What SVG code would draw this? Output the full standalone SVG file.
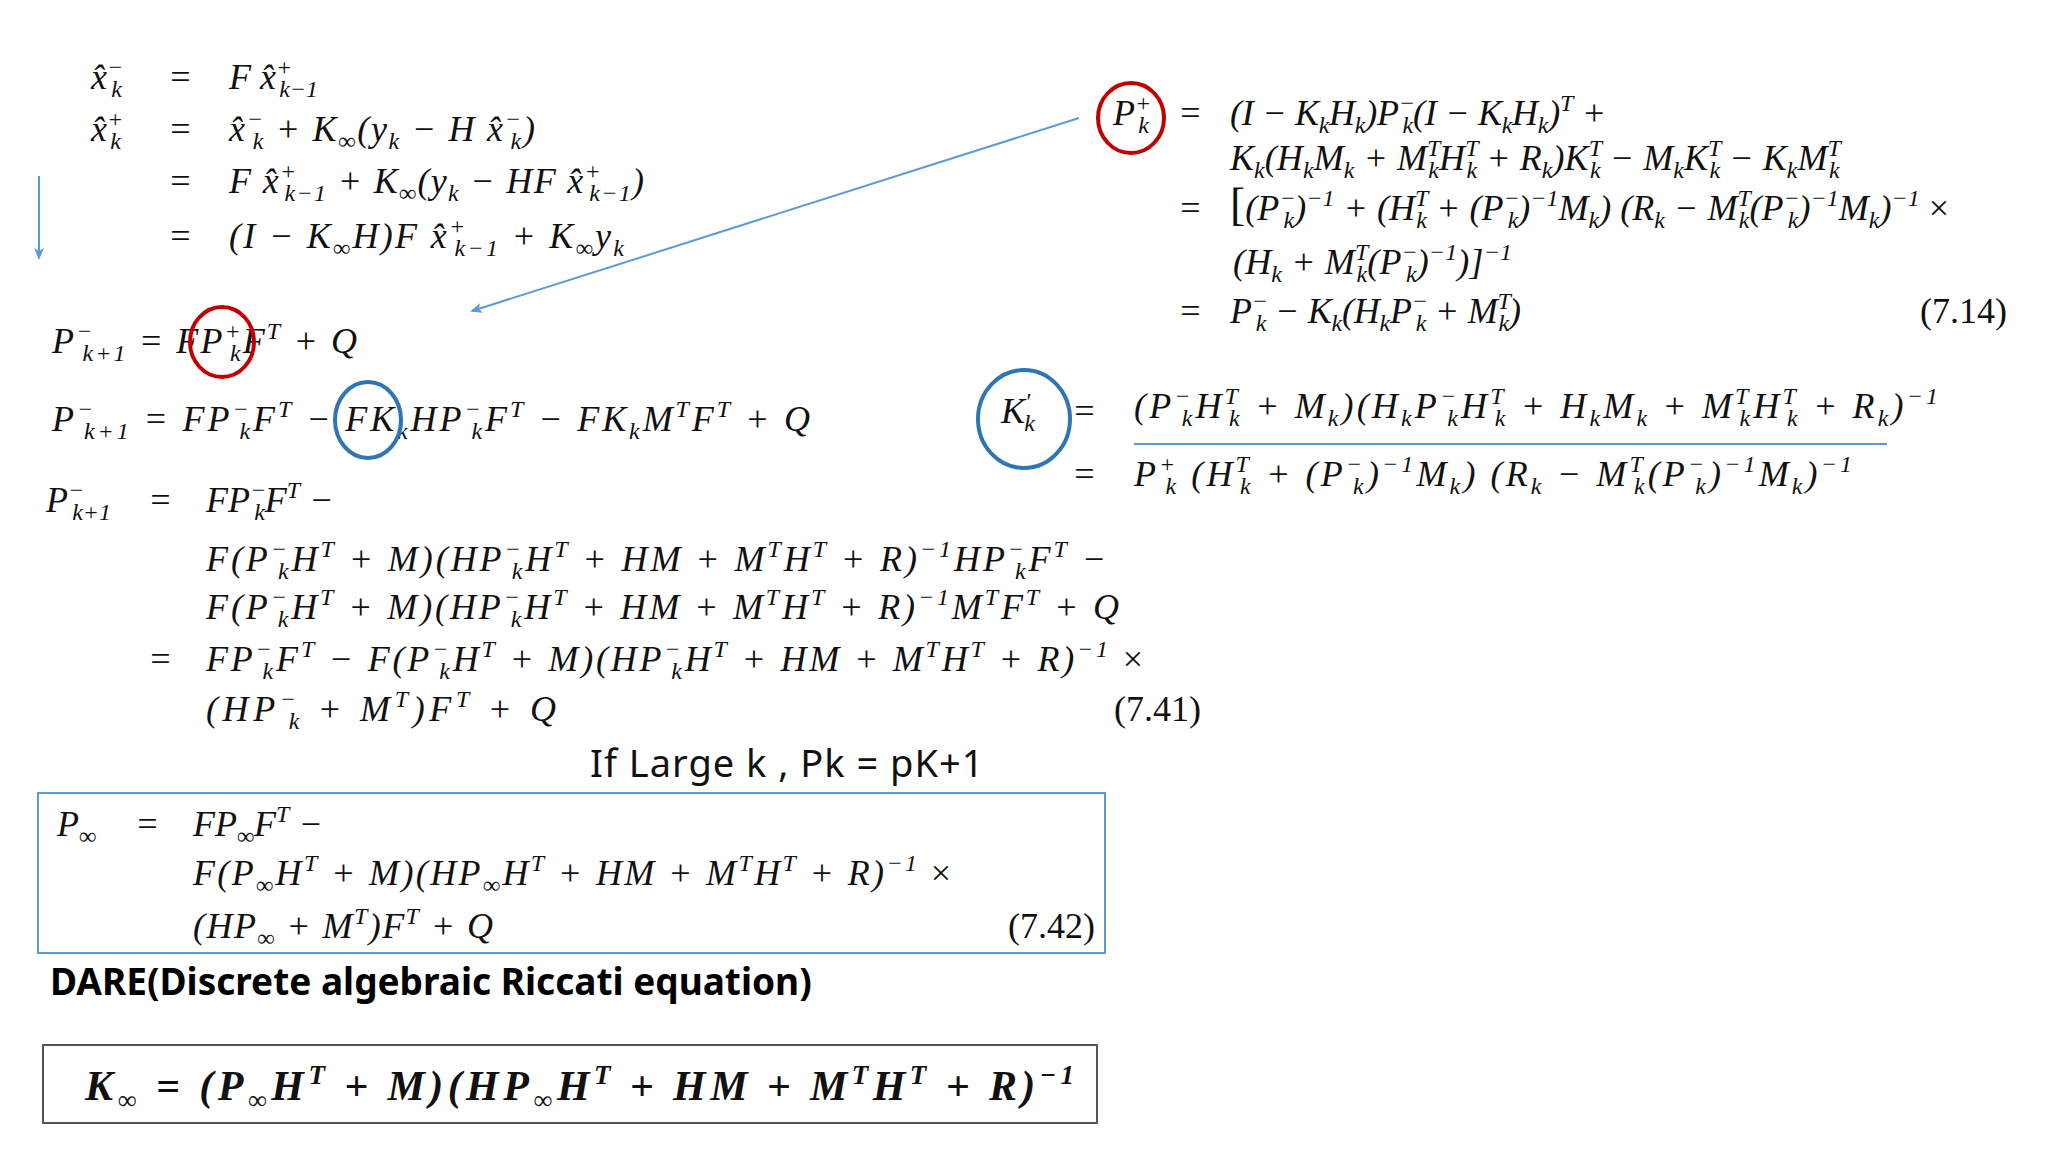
<svg xmlns="http://www.w3.org/2000/svg" width="2048" height="1152" viewBox="0 0 2048 1152">
<style>
.m{font-family:"Liberation Serif","DejaVu Serif",serif;font-style:italic;font-size:36px;fill:#111}
.u{font-size:24px;baseline-shift:14px}
.d{font-size:24px;baseline-shift:-8px}
.n{font-style:normal}
.t{font-family:"Noto Sans","Open Sans",sans-serif;font-size:38px;letter-spacing:1px;fill:#111}
.b{font-family:"Noto Sans","Open Sans",sans-serif;font-size:37px;font-weight:bold;fill:#000}
.big{font-size:42px;font-weight:bold}
.big .u{font-size:27px;baseline-shift:16px}
.big .d{font-size:27px;baseline-shift:-9px}
</style>
<defs>
<marker id="ah" markerWidth="12" markerHeight="10" refX="10" refY="5" orient="auto" markerUnits="userSpaceOnUse">
<path d="M0,0 L12,5 L0,10 L3,5 Z" fill="#5b9bd5"/>
</marker>
</defs>
<rect width="2048" height="1152" fill="#fff"/>

<g id="connectors" stroke="#5b9bd5" stroke-width="2" fill="none">
<line x1="39" y1="176" x2="39" y2="258" marker-end="url(#ah)"/>
<line x1="1079" y1="118" x2="472" y2="311" marker-end="url(#ah)"/>
<line x1="1134" y1="444" x2="1887" y2="444"/>
</g>

<g id="state-update" class="m">
<text x="91" y="89">x̂<tspan class="u">−</tspan><tspan class="d" dx="-12">k</tspan></text>
<text x="168" y="89">=</text>
<text x="229" y="89">F x̂<tspan class="u">+</tspan><tspan class="d" dx="-13">k−1</tspan></text>
<text x="91" y="141">x̂<tspan class="u">+</tspan><tspan class="d" dx="-13">k</tspan></text>
<text x="168" y="141">=</text>
<text x="229" y="141" textLength="306">x̂<tspan class="u">−</tspan><tspan class="d" dx="-12">k</tspan> + K<tspan class="d">∞</tspan>(y<tspan class="d">k</tspan> − H x̂<tspan class="u">−</tspan><tspan class="d" dx="-12">k</tspan>)</text>
<text x="168" y="193">=</text>
<text x="229" y="193" textLength="415">F x̂<tspan class="u">+</tspan><tspan class="d" dx="-13">k−1</tspan> + K<tspan class="d">∞</tspan>(y<tspan class="d">k</tspan> − HF x̂<tspan class="u">+</tspan><tspan class="d" dx="-13">k−1</tspan>)</text>
<text x="168" y="248">=</text>
<text x="229" y="248" textLength="395">(I − K<tspan class="d">∞</tspan>H)F x̂<tspan class="u">+</tspan><tspan class="d" dx="-13">k−1</tspan> + K<tspan class="d">∞</tspan>y<tspan class="d">k</tspan></text>
</g>

<g id="p-prior" class="m">
<text x="52" y="353" textLength="305">P<tspan class="u">−</tspan><tspan class="d" dx="-12">k+1</tspan> = FP<tspan class="u">+</tspan><tspan class="d" dx="-13">k</tspan>F<tspan class="u">T</tspan> + Q</text>
<text x="52" y="431" textLength="758">P<tspan class="u">−</tspan><tspan class="d" dx="-12">k+1</tspan> = FP<tspan class="u">−</tspan><tspan class="d" dx="-12">k</tspan>F<tspan class="u">T</tspan> − FK<tspan class="d">k</tspan>HP<tspan class="u">−</tspan><tspan class="d" dx="-12">k</tspan>F<tspan class="u">T</tspan> − FK<tspan class="d">k</tspan>M<tspan class="u">T</tspan>F<tspan class="u">T</tspan> + Q</text>
</g>

<g id="eq741" class="m">
<text x="46" y="512">P<tspan class="u">−</tspan><tspan class="d" dx="-12">k+1</tspan></text>
<text x="148" y="512">=</text>
<text x="206" y="512">FP<tspan class="u">−</tspan><tspan class="d" dx="-12">k</tspan>F<tspan class="u">T</tspan> −</text>
<text x="206" y="571" textLength="900">F(P<tspan class="u">−</tspan><tspan class="d" dx="-12">k</tspan>H<tspan class="u">T</tspan> + M)(HP<tspan class="u">−</tspan><tspan class="d" dx="-12">k</tspan>H<tspan class="u">T</tspan> + HM + M<tspan class="u">T</tspan>H<tspan class="u">T</tspan> + R)<tspan class="u">−1</tspan>HP<tspan class="u">−</tspan><tspan class="d" dx="-12">k</tspan>F<tspan class="u">T</tspan> −</text>
<text x="206" y="619" textLength="913">F(P<tspan class="u">−</tspan><tspan class="d" dx="-12">k</tspan>H<tspan class="u">T</tspan> + M)(HP<tspan class="u">−</tspan><tspan class="d" dx="-12">k</tspan>H<tspan class="u">T</tspan> + HM + M<tspan class="u">T</tspan>H<tspan class="u">T</tspan> + R)<tspan class="u">−1</tspan>M<tspan class="u">T</tspan>F<tspan class="u">T</tspan> + Q</text>
<text x="148" y="671">=</text>
<text x="206" y="671" textLength="937">FP<tspan class="u">−</tspan><tspan class="d" dx="-12">k</tspan>F<tspan class="u">T</tspan> − F(P<tspan class="u">−</tspan><tspan class="d" dx="-12">k</tspan>H<tspan class="u">T</tspan> + M)(HP<tspan class="u">−</tspan><tspan class="d" dx="-12">k</tspan>H<tspan class="u">T</tspan> + HM + M<tspan class="u">T</tspan>H<tspan class="u">T</tspan> + R)<tspan class="u">−1</tspan> <tspan class="n">×</tspan></text>
<text x="206" y="721" textLength="350">(HP<tspan class="u">−</tspan><tspan class="d" dx="-12">k</tspan> + M<tspan class="u">T</tspan>)F<tspan class="u">T</tspan> + Q</text>
<text x="1114" y="721" class="n">(7.41)</text>
</g>

<g id="p-post" class="m">
<text x="1113" y="125">P<tspan class="u">+</tspan><tspan class="d" dx="-13">k</tspan></text>
<text x="1178" y="125">=</text>
<text x="1230" y="125" textLength="376">(I − K<tspan class="d">k</tspan>H<tspan class="d">k</tspan>)P<tspan class="u">−</tspan><tspan class="d" dx="-12">k</tspan>(I − K<tspan class="d">k</tspan>H<tspan class="d">k</tspan>)<tspan class="u">T</tspan> +</text>
<text x="1230" y="170" textLength="611">K<tspan class="d">k</tspan>(H<tspan class="d">k</tspan>M<tspan class="d">k</tspan> + M<tspan class="u">T</tspan><tspan class="d" dx="-12">k</tspan>H<tspan class="u">T</tspan><tspan class="d" dx="-12">k</tspan> + R<tspan class="d">k</tspan>)K<tspan class="u">T</tspan><tspan class="d" dx="-12">k</tspan> − M<tspan class="d">k</tspan>K<tspan class="u">T</tspan><tspan class="d" dx="-12">k</tspan> − K<tspan class="d">k</tspan>M<tspan class="u">T</tspan><tspan class="d" dx="-12">k</tspan></text>
<text x="1178" y="220">=</text>
<text x="1230" y="220" textLength="719"><tspan class="n" font-size="46">[</tspan>(P<tspan class="u">−</tspan><tspan class="d" dx="-12">k</tspan>)<tspan class="u">−1</tspan> + (H<tspan class="u">T</tspan><tspan class="d" dx="-12">k</tspan> + (P<tspan class="u">−</tspan><tspan class="d" dx="-12">k</tspan>)<tspan class="u">−1</tspan>M<tspan class="d">k</tspan>) (R<tspan class="d">k</tspan> − M<tspan class="u">T</tspan><tspan class="d" dx="-12">k</tspan>(P<tspan class="u">−</tspan><tspan class="d" dx="-12">k</tspan>)<tspan class="u">−1</tspan>M<tspan class="d">k</tspan>)<tspan class="u">−1</tspan> <tspan class="n">×</tspan></text>
<text x="1233" y="274" textLength="279">(H<tspan class="d">k</tspan> + M<tspan class="u">T</tspan><tspan class="d" dx="-12">k</tspan>(P<tspan class="u">−</tspan><tspan class="d" dx="-12">k</tspan>)<tspan class="u">−1</tspan>)]<tspan class="u">−1</tspan></text>
<text x="1178" y="323">=</text>
<text x="1230" y="323" textLength="291">P<tspan class="u">−</tspan><tspan class="d" dx="-12">k</tspan> − K<tspan class="d">k</tspan>(H<tspan class="d">k</tspan>P<tspan class="u">−</tspan><tspan class="d" dx="-12">k</tspan> + M<tspan class="u">T</tspan><tspan class="d" dx="-12">k</tspan>)</text>
<text x="1920" y="323" class="n">(7.14)</text>
</g>

<g id="gain" class="m">
<text x="1001" y="423">K<tspan class="u">′</tspan><tspan class="d" dx="-6">k</tspan></text>
<text x="1072" y="423">=</text>
<text x="1134" y="418" textLength="804">(P<tspan class="u">−</tspan><tspan class="d" dx="-12">k</tspan>H<tspan class="u">T</tspan><tspan class="d" dx="-12">k</tspan> + M<tspan class="d">k</tspan>)(H<tspan class="d">k</tspan>P<tspan class="u">−</tspan><tspan class="d" dx="-12">k</tspan>H<tspan class="u">T</tspan><tspan class="d" dx="-12">k</tspan> + H<tspan class="d">k</tspan>M<tspan class="d">k</tspan> + M<tspan class="u">T</tspan><tspan class="d" dx="-12">k</tspan>H<tspan class="u">T</tspan><tspan class="d" dx="-12">k</tspan> + R<tspan class="d">k</tspan>)<tspan class="u">−1</tspan></text>
<text x="1072" y="486">=</text>
<text x="1134" y="486" textLength="718">P<tspan class="u">+</tspan><tspan class="d" dx="-13">k</tspan> (H<tspan class="u">T</tspan><tspan class="d" dx="-12">k</tspan> + (P<tspan class="u">−</tspan><tspan class="d" dx="-12">k</tspan>)<tspan class="u">−1</tspan>M<tspan class="d">k</tspan>) (R<tspan class="d">k</tspan> − M<tspan class="u">T</tspan><tspan class="d" dx="-12">k</tspan>(P<tspan class="u">−</tspan><tspan class="d" dx="-12">k</tspan>)<tspan class="u">−1</tspan>M<tspan class="d">k</tspan>)<tspan class="u">−1</tspan></text>
</g>

<g id="circles" fill="none" stroke-width="4">
<ellipse cx="1131" cy="118" rx="33" ry="35" stroke="#c00000"/>
<ellipse cx="222" cy="342" rx="32" ry="35" stroke="#c00000"/>
<ellipse cx="368" cy="420" rx="33" ry="38" stroke="#2e75b6"/>
<ellipse cx="1024" cy="419" rx="46" ry="49" stroke="#2e75b6"/>
</g>

<g id="note">
<text class="t" x="590" y="777">If Large k , Pk = pK+1</text>
</g>

<g id="eq742">
<rect x="38" y="793" width="1067" height="160" fill="none" stroke="#5b9bd5" stroke-width="2"/>
<g class="m">
<text x="57" y="836">P<tspan class="d">∞</tspan></text>
<text x="135" y="836">=</text>
<text x="193" y="836">FP<tspan class="d">∞</tspan>F<tspan class="u">T</tspan> −</text>
<text x="193" y="885" textLength="758">F(P<tspan class="d">∞</tspan>H<tspan class="u">T</tspan> + M)(HP<tspan class="d">∞</tspan>H<tspan class="u">T</tspan> + HM + M<tspan class="u">T</tspan>H<tspan class="u">T</tspan> + R)<tspan class="u">−1</tspan> <tspan class="n">×</tspan></text>
<text x="193" y="938" textLength="300">(HP<tspan class="d">∞</tspan> + M<tspan class="u">T</tspan>)F<tspan class="u">T</tspan> + Q</text>
<text x="1008" y="938" class="n">(7.42)</text>
</g>
</g>

<g id="dare">
<text class="b" x="50" y="995">DARE(Discrete algebraic Riccati equation)</text>
</g>

<g id="kinf">
<rect x="43" y="1045" width="1054" height="78" fill="none" stroke="#555" stroke-width="2"/>
<text class="m big" x="85" y="1100" textLength="989">K<tspan class="d">∞</tspan> = (P<tspan class="d">∞</tspan>H<tspan class="u">T</tspan> + M)(HP<tspan class="d">∞</tspan>H<tspan class="u">T</tspan> + HM + M<tspan class="u">T</tspan>H<tspan class="u">T</tspan> + R)<tspan class="u">−1</tspan></text>
</g>
</svg>
